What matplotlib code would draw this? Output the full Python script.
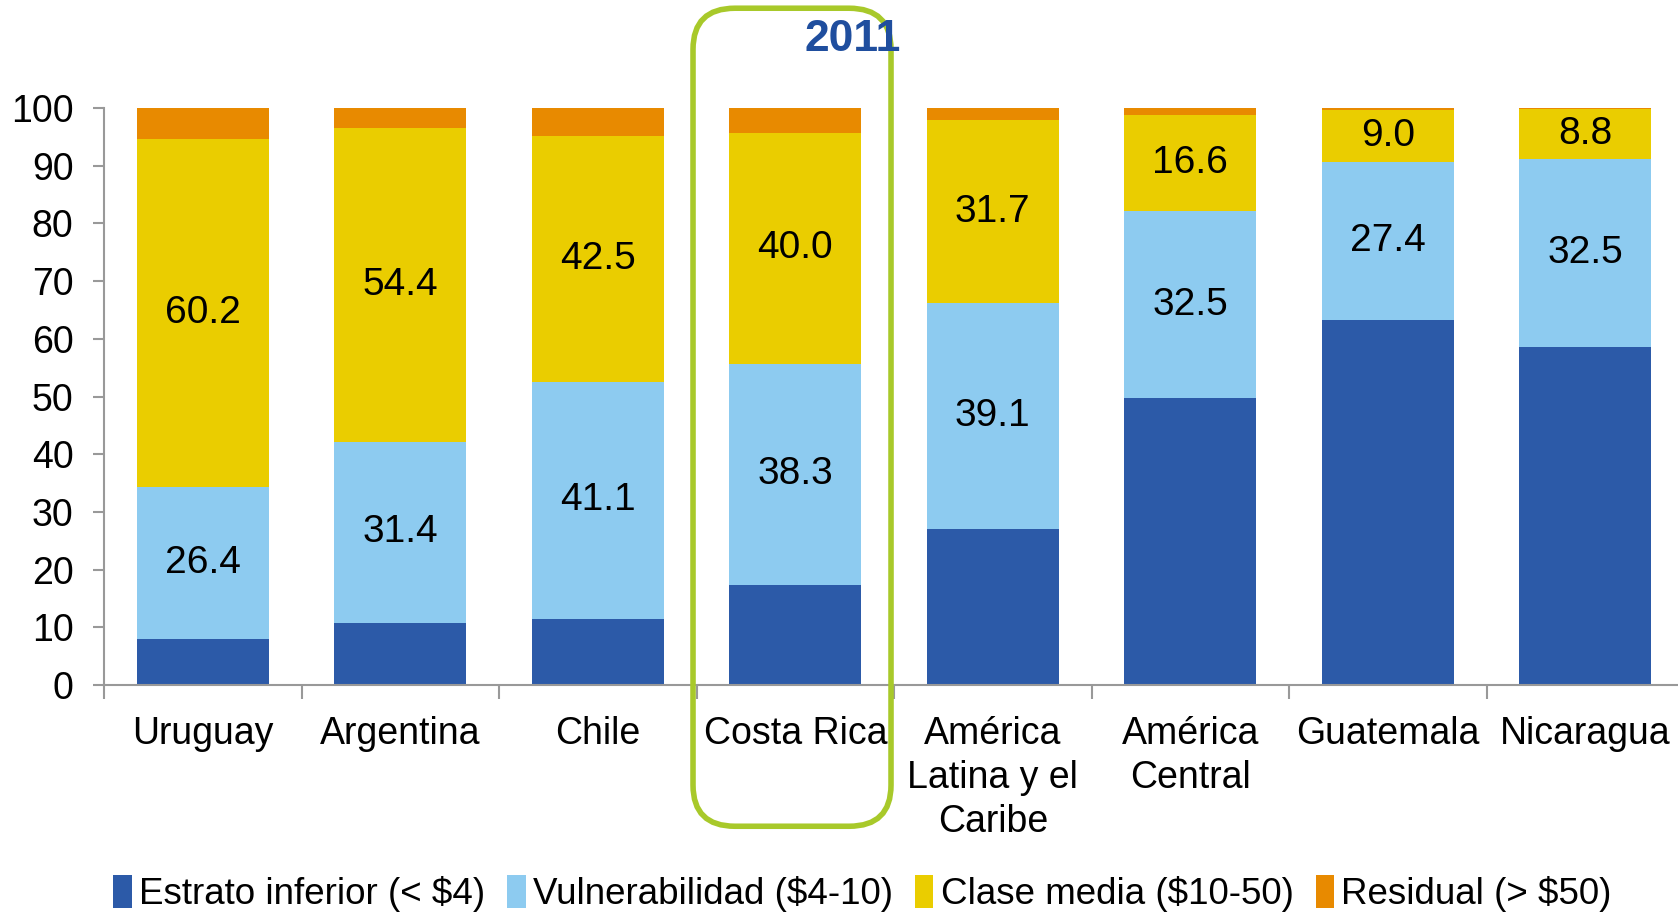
import matplotlib.pyplot as plt
from matplotlib.patches import FancyBboxPatch
import numpy as np

plt.rcParams['font.family'] = ['Liberation Sans', 'DejaVu Sans']

paises = ['Uruguay', 'Argentina', 'Chile', 'Costa Rica',
          'América\nLatina y el\nCaribe', 'América\nCentral', 'Guatemala', 'Nicaragua']
inferior = [8.0, 10.8, 11.5, 17.4, 27.1, 49.7, 63.3, 58.6]
vulnerab = [26.4, 31.4, 41.1, 38.3, 39.1, 32.5, 27.4, 32.5]
media = [60.2, 54.4, 42.5, 40.0, 31.7, 16.6, 9.0, 8.8]
residual = [5.4, 3.4, 4.9, 4.3, 2.1, 1.2, 0.3, 0.1]

nombres = ['Estrato inferior (< $4)', 'Vulnerabilidad ($4-10)',
           'Clase media ($10-50)', 'Residual (> $50)']
colores = ['#2C5AA8', '#8DCBF0', '#EACD00', '#E88A00']

fig = plt.figure(figsize=(16.78, 9.14), dpi=100)
ax = fig.add_axes([0.062, 0.2505, 0.9416, 0.6313])

x = np.arange(len(paises))
w = 0.667
base = np.zeros(len(paises))
series = [inferior, vulnerab, media, residual]
for i, s in enumerate(series):
    s = np.array(s)
    ax.bar(x, s, w, bottom=base, color=colores[i], label=nombres[i])
    if i in (1, 2):
        for xi, b, v in zip(x, base, s):
            ax.text(xi, b + v / 2, '%.1f' % v, ha='center', va='center', fontsize=28)
    base = base + s

ax.set_xlim(-0.5, 7.5)
ax.set_ylim(0, 100)
ax.set_yticks(range(0, 101, 10))
ax.set_xticks(x)
ax.set_xticklabels(paises, fontsize=27, linespacing=1.3)
ax.set_xticks(np.arange(-0.5, 7.6, 1), minor=True)
ax.tick_params(axis='x', which='major', length=0, pad=22)
ax.tick_params(axis='x', which='minor', length=10, color='#999999', width=1.5)
ax.tick_params(axis='y', labelsize=27, length=8, color='#999999', width=1.5, pad=14)
for sp in ['top', 'right']:
    ax.spines[sp].set_visible(False)
ax.spines['left'].set_color('#999999')
ax.spines['bottom'].set_color('#999999')
ax.spines['left'].set_linewidth(1.5)
ax.spines['bottom'].set_linewidth(1.5)

fig.text(0.508, 0.957, '2011', ha='center', va='center', fontsize=32,
         fontweight='bold', color='#1F4E9E')

caja = FancyBboxPatch((0.413, 0.096), 0.118, 0.895, boxstyle='round,pad=0,rounding_size=0.025',
                      transform=fig.transFigure, fill=False, edgecolor='#A8C92A',
                      linewidth=4, mutation_aspect=1.8)
fig.patches.append(caja)

fig.legend(loc='center', bbox_to_anchor=(0.514, 0.022), ncol=4, frameon=False,
           fontsize=26.5, handlelength=0.5, handleheight=1.0, handletextpad=0.2,
           columnspacing=0.6)

fig.savefig('out.png', dpi=100)
